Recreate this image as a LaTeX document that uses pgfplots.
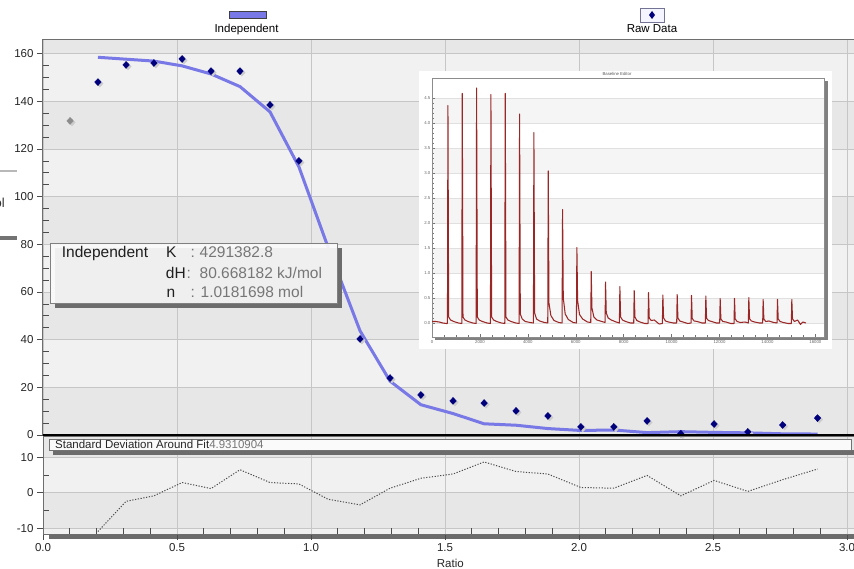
\documentclass[border=0pt]{standalone}
\usepackage{pgfplots}
\usepackage{pgfplotstable}
\pgfplotsset{compat=1.18}
\usepackage{fontspec}
\setmainfont{Liberation Sans}
\definecolor{bandA}{HTML}{F1F1F1}
\definecolor{bandB}{HTML}{E7E7E7}
\definecolor{gridc}{HTML}{C6C6C6}
\definecolor{framec}{HTML}{6E6E6E}
\definecolor{navyd}{HTML}{00007C}
\definecolor{fitc}{HTML}{7878E6}
\definecolor{redtr}{HTML}{9A2626}
\definecolor{valc}{HTML}{767676}
\definecolor{shadowc}{HTML}{6C6C6C}
\newcommand\annfont{\fontsize{15.5}{18}\selectfont}
\newcommand\legfont{\fontsize{11.5}{13}\selectfont}

\pgfplotstableread{
x y
0.205 148.1
0.310 155.3
0.414 156.1
0.519 157.8
0.627 152.7
0.735 152.7
0.847 138.5
0.955 115.0
1.063 76.4
1.183 40.3
1.295 23.9
1.410 16.8
1.530 14.3
1.646 13.4
1.765 10.1
1.884 8.0
2.007 3.4
2.130 3.4
2.254 5.9
2.380 0.55
2.504 4.6
2.630 1.3
2.760 4.2
2.890 7.1
}\rawdata

\pgfplotstableread{
x y
0.205 158.5
0.310 157.7
0.414 156.9
0.519 154.9
0.627 151.5
0.735 146.2
0.847 135.6
0.955 112.5
1.063 79.0
1.183 43.7
1.295 22.6
1.410 12.7
1.530 9.0
1.646 4.7
1.765 4.1
1.884 2.7
2.007 1.9
2.130 2.1
2.254 1.0
2.380 1.4
2.504 1.1
2.630 0.9
2.760 0.5
2.890 0.4
}\fitdata

\pgfplotstableread{
x r
0.205 -10.9
0.310 -2.4
0.414 -0.85
0.519 2.9
0.627 1.2
0.735 6.5
0.847 2.9
0.955 2.5
1.063 -1.8
1.183 -3.4
1.295 1.3
1.410 4.1
1.530 5.3
1.646 8.7
1.765 6.0
1.884 5.3
2.007 1.5
2.130 1.3
2.254 4.9
2.380 -0.85
2.504 3.5
2.630 0.4
2.760 3.7
2.890 6.7
}\resdata

\begin{document}
\begin{tikzpicture}[x=1pt,y=1pt]
\useasboundingbox (0,0) rectangle (854,568);
\fill[white] (0,0) rectangle (854,568);

% cut-off pieces at the left edge
\draw[black!28, line width=1.5pt] (0,397) -- (17,397);
\fill[black!55] (0,328) rectangle (17,332);
\node[anchor=east, inner sep=0pt, font=\fontsize{13}{15}\selectfont, text=black!80] at (5,365) {kJ/mol};

% legend
\filldraw[fill=fitc, draw=black!75, line width=0.7pt] (229,550) rectangle (266,557);
\node[anchor=base, inner sep=0pt, font=\legfont] at (246.5,535.7) {Independent};
\filldraw[fill=blue!4!white, draw=blue!25!black!55, line width=0.7pt] (640,546) rectangle (664,560);
\fill[navyd] (652,557) -- (655,553) -- (652,549) -- (649,553) -- cycle;
\node[anchor=base, inner sep=0pt, font=\legfont] at (652,535.7) {Raw Data};

% background bands of the main panel
\foreach \k/\c in {0/bandB,1/bandA,2/bandB,3/bandA,4/bandB,5/bandA,6/bandB,7/bandA}{
  \fill[\c] (43,{133+47.66*\k}) rectangle (854,{133+47.66*(\k+1)});
}
\fill[bandB] (43,514.28) rectangle (854,528.1);
% background bands of the residual panel
\fill[bandA] (43,34) rectangle (854,39.68);
\fill[bandB] (43,39.68) rectangle (854,75.18);
\fill[bandA] (43,75.18) rectangle (854,110.68);
\fill[bandB] (43,110.68) rectangle (854,131.3);

% main panel
\begin{axis}[
  at={(43pt,133pt)}, anchor=south west,
  x=268pt, y=2.383pt,
  xmin=0, xmax=3.04, ymin=0, ymax=165.8,
  axis line style={draw=framec, line width=1pt},
  xtick={0,0.5,...,3}, xticklabels={},
  x tick style={draw=none},
  ytick={0,20,...,160}, minor y tick num=3,
  ytick pos=left, tick align=outside,
  major tick length=6pt, minor tick length=6pt,
  tick style={black!70, line width=0.8pt},
  minor y tick style={xshift=6pt},
  grid=major, major grid style={draw=gridc, line width=0.7pt},
  yticklabel style={font=\legfont, text=black!85},
  /pgf/number format/assume math mode=true,
]
\addplot[draw=fitc, line width=3pt, line join=round] table[x=x,y=y] {\fitdata};
\addplot[only marks, mark=diamond*, mark size=3.5pt,
  mark options={xscale=1.25, fill=black!20, draw=black!20, xshift=1.5pt, yshift=-1.5pt}]
  table[x=x,y=y] {\rawdata};
\addplot[only marks, mark=diamond*, mark size=3.5pt,
  mark options={xscale=1.25, fill=navyd, draw=navyd}]
  table[x=x,y=y] {\rawdata};
\addplot[only marks, mark=diamond*, mark size=3.5pt,
  mark options={xscale=1.25, fill=black!20, draw=black!20, xshift=1.5pt, yshift=-1.5pt}]
  coordinates {(0.101,131.8)};
\addplot[only marks, mark=diamond*, mark size=3.5pt,
  mark options={xscale=1.25, fill=black!45, draw=black!45}]
  coordinates {(0.101,131.8)};
\end{axis}

% thick zero line
\fill[black] (43,131) rectangle (854,133.6);

% residual panel
\fill[shadowc] (49,29) rectangle (854,33.8);
\begin{axis}[
  at={(43pt,34pt)}, anchor=south west,
  x=268pt, y=3.55pt,
  xmin=0, xmax=3.04, ymin=-11.6, ymax=15.8,
  axis line style={draw=framec, line width=1pt},
  xtick={0,0.5,...,3}, minor x tick num=4,
  ytick={-10,0,10}, minor y tick num=1,
  xtick pos=bottom, ytick pos=left,
  tick align=outside, major tick length=6pt, minor tick length=6pt,
  tick style={black!70, line width=0.8pt},
  minor y tick style={xshift=6pt}, minor x tick style={yshift=6pt},
  grid=major, major grid style={draw=gridc, line width=0.7pt},
  ticklabel style={font=\legfont, text=black!85},
  xticklabel style={/pgf/number format/fixed, /pgf/number format/fixed zerofill, /pgf/number format/precision=1},
  /pgf/number format/assume math mode=true,
  xlabel={Ratio},
  xlabel style={font=\legfont, text=black!85, at={(axis description cs:0.5,0)}, anchor=center, yshift=-29pt},
]
\addplot[draw=black!70, line width=1pt, dash pattern=on 1.2pt off 1.6pt] table[x=x,y=r] {\resdata};
\end{axis}

% standard deviation box
\fill[shadowc] (53,113) rectangle (856,118);
\filldraw[fill=white!98!black, draw=black!55, line width=0.7pt] (49,118) rectangle (851,129);
\node[anchor=west, inner sep=0pt, font=\fontsize{11.5}{13}\selectfont] at (55,123.3)
  {\textcolor{black!85}{Standard Deviation Around Fit}\textcolor{valc}{4.9310904}};

% inset: Baseline Editor
\fill[white] (419,219) rectangle (832,497);
\fill[black!50] (824,228) rectangle (827.5,487);
\fill[black!50] (435,227.5) rectangle (827.5,231);
\foreach \k in {0,2,4,6,8}{
  \fill[black!4] (432,{245+25*\k}) rectangle (824,{245+25*(\k+1)});
}
\begin{axis}[
  at={(432pt,231pt)}, anchor=south west,
  x=0.02395pt, y=50pt,
  xmin=0, xmax=16355, ymin=-0.28, ymax=4.9,
  axis line style={draw=black!45, line width=0.6pt},
  xtick={0,2000,...,16000}, ytick={0,0.5,...,4.5},
  scaled x ticks=false, scaled y ticks=false,
  minor x tick num=3, minor y tick num=4,
  xtick pos=bottom, ytick pos=left,
  tick align=inside, major tick length=2.5pt, minor tick length=1.5pt,
  tick style={black!55, line width=0.4pt},
  ymajorgrids, major grid style={draw=black!12, line width=0.5pt},
  ticklabel style={font=\fontsize{4.3}{5}\selectfont, text=black!60, inner sep=1.5pt},
  yticklabel style={/pgf/number format/fixed, /pgf/number format/fixed zerofill, /pgf/number format/precision=1},
  xticklabel style={/pgf/number format/1000 sep={}, yshift=-1.5pt},
  /pgf/number format/assume math mode=true,
]
\addplot[draw=redtr, line width=1.05pt, line join=round] coordinates {
(0,0.03) (150,0.03) (300,0.02) (450,0.0) (600,-0.01)
(645,-0.01) (665,4.35) (695,0.12) (775,0.06) (905,0.03) (1105,0.0)
(1243,-0.01) (1263,4.59) (1293,0.12) (1373,0.06) (1503,0.03) (1703,0.0)
(1841,-0.01) (1861,4.70) (1891,0.12) (1971,0.06) (2101,0.03) (2301,0.0)
(2439,-0.01) (2459,4.57) (2489,0.12) (2569,0.06) (2699,0.03) (2899,0.0)
(3037,-0.01) (3057,4.59) (3087,0.12) (3167,0.06) (3297,0.03) (3497,0.0)
(3635,-0.01) (3655,4.18) (3685,0.18) (3765,0.08) (3895,0.03) (4095,0.01)
(4233,0.0) (4253,3.81) (4283,0.2) (4363,0.08) (4493,0.04) (4693,0.01)
(4831,0.0) (4851,3.04) (4881,0.4) (4961,0.15) (5091,0.05) (5291,0.01)
(5429,0.0) (5449,2.27) (5479,0.5) (5559,0.18) (5689,0.07) (5889,0.01)
(6027,0.0) (6047,1.51) (6077,0.45) (6157,0.17) (6287,0.08) (6487,0.02)
(6625,0.01) (6645,1.03) (6675,0.3) (6755,0.12) (6885,0.06) (7085,0.03)
(7223,0.01) (7243,0.82) (7273,0.2) (7353,0.1) (7483,0.06) (7683,0.02)
(7821,0.0) (7841,0.73) (7871,0.12) (7951,0.06) (8081,0.03) (8281,0.0)
(8419,0.0) (8439,0.65) (8469,0.12) (8549,0.05) (8679,0.02) (8879,-0.01)
(9017,-0.01) (9037,0.61) (9067,0.1) (9147,0.05) (9277,0.06) (9477,-0.02)
(9615,-0.01) (9635,0.56) (9665,0.1) (9745,0.04) (9875,0.02) (10075,0.0)
(10213,0.0) (10233,0.57) (10263,0.1) (10343,0.04) (10473,0.02) (10673,-0.01)
(10811,0.0) (10831,0.55) (10861,0.09) (10941,0.04) (11071,0.03) (11271,0.0)
(11409,0.0) (11429,0.54) (11459,0.09) (11539,0.05) (11669,0.03) (11869,0.0)
(12007,0.0) (12027,0.49) (12057,0.08) (12137,0.03) (12267,0.02) (12467,-0.01)
(12605,-0.01) (12625,0.49) (12655,0.08) (12735,0.03) (12865,0.01) (13065,0.02)
(13203,0.0) (13223,0.51) (13253,0.08) (13333,0.04) (13463,0.02) (13663,0.0)
(13801,0.0) (13821,0.47) (13851,0.08) (13931,0.03) (14061,0.04) (14261,0.01)
(14399,0.0) (14419,0.47) (14449,0.08) (14529,0.03) (14659,0.01) (14859,-0.01)
(14997,-0.01) (15017,0.47) (15047,0.08) (15127,0.03) (15257,0.06) (15380,-0.03) (15480,0.02) (15603,0.0)
};
\end{axis}
\node[font=\fontsize{4.3}{5}\selectfont, text=black!65, inner sep=0pt] at (617,494) {Baseline Editor};

% fit parameter box
\fill[shadowc] (55,260) rectangle (342,320);
\filldraw[fill=white!98!black, fill opacity=0.93, draw=black!50, line width=0.7pt] (50,265) rectangle (337,325);
\begin{scope}[every node/.style={anchor=base west, inner sep=0pt, font=\annfont}]
\node[text=black!88] at (61.7,310) {Independent};
\node[text=black!88] at (166,310) {K};
\node[text=valc] at (190.3,310) {:};
\node[text=valc] at (199.5,310) {4291382.8};
\node[text=black!88] at (165.7,289.5) {dH};
\node[text=valc] at (186.5,289.5) {:};
\node[text=valc] at (199.5,289.5) {80.668182 kJ/mol};
\node[text=black!88] at (166.5,270) {n};
\node[text=valc] at (190.3,270) {:};
\node[text=valc] at (200.5,270) {1.0181698 mol};
\end{scope}
\end{tikzpicture}
\end{document}
